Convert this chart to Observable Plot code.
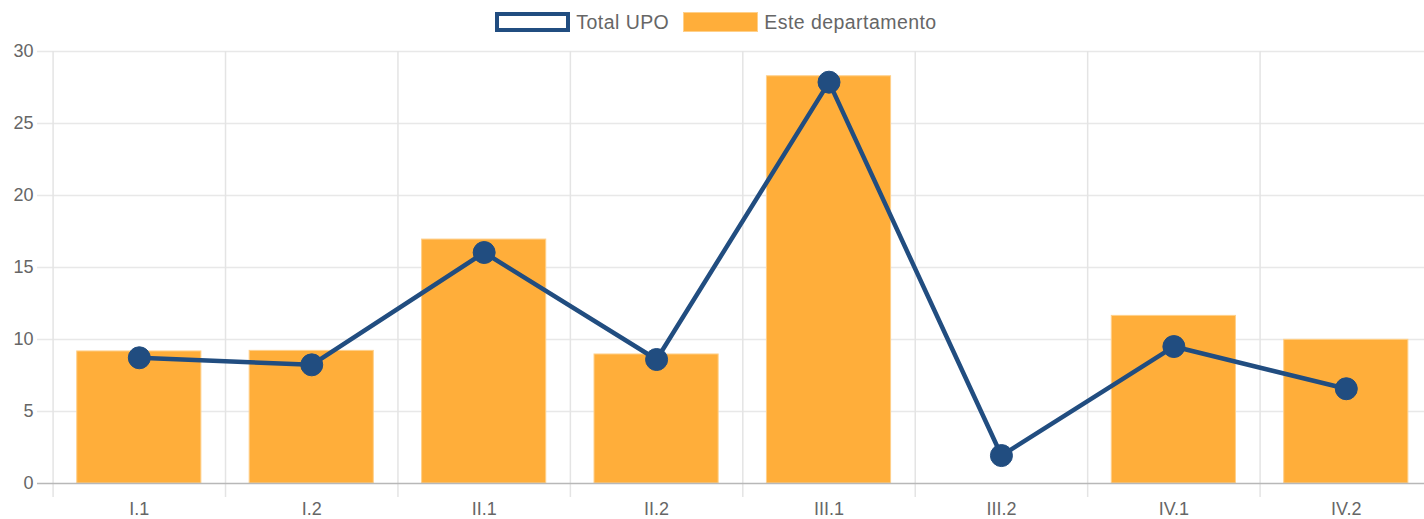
<!DOCTYPE html>
<html>
<head>
<meta charset="utf-8">
<script src="https://cdn.jsdelivr.net/npm/d3@7"></script>
<script src="https://cdn.jsdelivr.net/npm/@observablehq/plot@0.6"></script>
<style>
  html, body { margin: 0; padding: 0; background: #fff; overflow: hidden; }
  body { width: 1424px; height: 519px; font-family: "Liberation Sans", Arial, sans-serif; }
  #legend { position: relative; width: 1432px; height: 40px; padding-top: 4px; box-sizing: border-box; display: flex; justify-content: center; align-items: center; color: #666; font-size: 19.5px; letter-spacing: 0.45px; }
  .item { display: flex; align-items: center; margin: 0 7px; }
  .box { width: 75px; height: 20px; box-sizing: border-box; margin-right: 6px; }
  #chart svg { display: block; max-width: none !important; }
</style>
</head>
<body>
<div id="legend"></div>
<div id="chart"></div>
<script>
const categories = ["I.1", "I.2", "II.1", "II.2", "III.1", "III.2", "IV.1", "IV.2"];
const departamento = [9.17, 9.21, 16.94, 8.96, 28.28, 0, 11.64, 9.98];
const totalUPO = [8.73, 8.24, 16.04, 8.61, 27.87, 1.94, 9.51, 6.58];
const yTicks = [0, 5, 10, 15, 20, 25, 30];
const seriesNames = ["Total UPO", "Este departamento"];
const colorLine = "#214d80";
const colorBar = "#ffae3a";

const rows = categories.map((c, i) => ({cat: c, dep: departamento[i], upo: totalUPO[i]}));

// legend
const legend = document.getElementById("legend");
legend.innerHTML = `
  <div class="item"><div class="box" style="border:4px solid ${colorLine};background:#fff"></div><span>${seriesNames[0]}</span></div>
  <div class="item"><div class="box" style="background:${colorBar};border:1px solid #ffd08a"></div><span>${seriesNames[1]}</span></div>`;

const W = 1424, H = 479;
const mL = 53, mT = 11, mB = 36, mR = 0;
const xRange = [52.6, 1432];
const step = (xRange[1] - xRange[0]) / categories.length;

const chart = Plot.plot({
  width: W,
  height: H,
  marginLeft: mL, marginRight: mR, marginTop: mT, marginBottom: mB,
  style: {fontFamily: "Liberation Sans, Arial, sans-serif", fontSize: "18px", color: "#666", background: "#fff", overflow: "visible"},
  x: {type: "band", domain: categories, range: xRange, paddingInner: 0.28, paddingOuter: 0.14, round: false, axis: null, label: null},
  y: {domain: [0, 30], range: [H - mB, mT], axis: null, label: null},
  marks: [
    // horizontal grid lines
    Plot.ruleY(yTicks.filter(d => d !== 0), {y: d => d, stroke: "#e8e8e8", strokeWidth: 1.5, insetLeft: -16}),
    // vertical grid lines at category boundaries
    Plot.ruleX(categories, {x: d => d, dx: -step / 2, stroke: "#e4e4e4", strokeWidth: 1.5, insetBottom: -14}),
    // bars
    Plot.barY(rows, {x: "cat", y: "dep", fill: colorBar, stroke: "#ffd08a", strokeWidth: 1}),
    // zero baseline
    Plot.ruleY([0], {stroke: "#b8b8b8", strokeWidth: 1.5, insetLeft: -16}),
    // line
    Plot.line(rows, {x: "cat", y: "upo", stroke: colorLine, strokeWidth: 4.5}),
    Plot.dot(rows, {x: "cat", y: "upo", r: 11, fill: colorLine, stroke: colorLine, strokeWidth: 1}),
    // y axis labels
    Plot.axisY(yTicks, {tickSize: 0, tickPadding: 20, fontSize: 18, fill: "#666", label: null}),
    // x axis labels
    Plot.axisX(categories, {tickSize: 0, tickPadding: 19, fontSize: 18, fill: "#666", label: null})
  ]
});
document.getElementById("chart").appendChild(chart);
</script>
</body>
</html>
